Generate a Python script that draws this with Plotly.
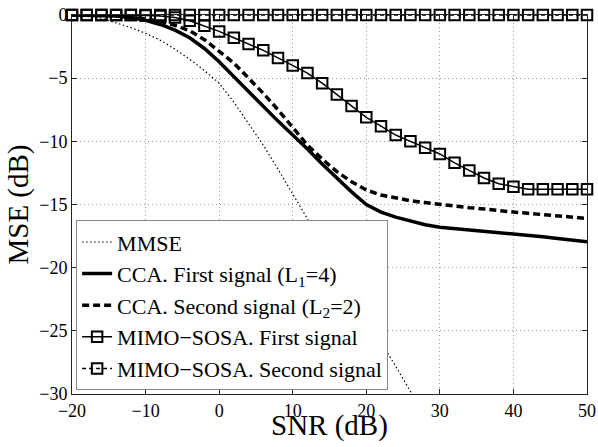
import plotly.graph_objects as go

snr = [-20, -18, -16, -14, -12, -10, -8, -6, -4, -2, 0, 2, 4, 6, 8, 10, 12, 14,
       16, 18, 20, 22, 24, 26, 28, 30, 32, 34, 36, 38, 40, 42, 44, 46, 48, 50]

snr_mmse = [-20, -18, -16, -14, -12, -10, -8, -6, -4, -2, 0, 2, 4, 6, 8, 10, 12,
            14, 16, 18, 20, 22, 24, 26, 28]
mmse = [-0.02, -0.1, -0.25, -0.6, -1.0, -1.45, -2.0, -2.7, -3.5, -4.4, -5.4, -6.9,
        -8.6, -10.3, -12.2, -14.2, -16.1, -18.1, -20.0, -22.0, -24.0, -25.9, -27.8,
        -29.8, -31.8]

cca_first = [0, -0.01, -0.03, -0.08, -0.2, -0.42, -0.75, -1.2, -1.8, -2.65, -3.7,
             -4.9, -6.05, -7.2, -8.4, -9.5, -10.6, -11.8, -12.9, -14.0, -15.0, -15.6,
             -16.0, -16.3, -16.6, -16.8, -16.9, -17.0, -17.1, -17.2, -17.3, -17.4,
             -17.55, -17.7, -17.8, -17.95]

cca_second = [0, -0.01, -0.02, -0.05, -0.13, -0.28, -0.5, -0.82, -1.25, -1.95, -2.85,
              -3.8, -5.0, -6.2, -7.5, -8.9, -10.3, -11.4, -12.4, -13.2, -13.85, -14.25,
              -14.5, -14.7, -14.85, -15.0, -15.1, -15.25, -15.35, -15.5, -15.6, -15.7,
              -15.8, -15.9, -16.0, -16.1]

sosa_first = [0, 0, 0, 0, 0, -0.03, -0.08, -0.2, -0.45, -0.85, -1.3, -1.8, -2.3, -2.8,
              -3.4, -4.0, -4.6, -5.4, -6.3, -7.2, -8.1, -8.8, -9.5, -10.0, -10.5, -11.0,
              -11.7, -12.3, -12.9, -13.35, -13.6, -13.8, -13.8, -13.8, -13.8, -13.8]

sosa_second = [0, 0, 0, 0, 0, 0, 0, 0, 0, 0, 0, 0, 0, 0, 0, 0, 0, 0,
               0, 0, 0, 0, 0, 0, 0, 0, 0, 0, 0, 0, 0, 0, 0, 0, 0, 0]

names = ["MMSE", "CCA. First signal (L<sub>1</sub>=4)",
         "CCA. Second signal (L<sub>2</sub>=2)",
         "MIMO\u2212SOSA. First signal", "MIMO\u2212SOSA. Second signal"]

x_title = "SNR (dB)"
y_title = "MSE (dB)"

FONT = "Liberation Serif, Times New Roman, Times, serif"

fig = go.Figure()
fig.add_trace(go.Scatter(x=snr_mmse, y=mmse, mode="lines", name=names[0],
                         line=dict(color="black", width=1.2, dash="1.5px,2.5px")))
fig.add_trace(go.Scatter(x=snr, y=cca_first, mode="lines", name=names[1],
                         line=dict(color="black", width=3.5)))
fig.add_trace(go.Scatter(x=snr, y=cca_second, mode="lines", name=names[2],
                         line=dict(color="black", width=3.5, dash="7px,4px")))
fig.add_trace(go.Scatter(x=snr, y=sosa_first, mode="lines+markers", name=names[3],
                         line=dict(color="black", width=1.5),
                         marker=dict(symbol="square-open", size=10.5, color="black",
                                     line=dict(width=2, color="black")),
                         cliponaxis=False))
fig.add_trace(go.Scatter(x=snr, y=sosa_second, mode="lines+markers", name=names[4],
                         line=dict(color="black", width=1.5, dash="4px,3px"),
                         marker=dict(symbol="square-open", size=10.5, color="black",
                                     line=dict(width=2, color="black")),
                         cliponaxis=False))

axis_common = dict(
    showline=True, linecolor="#222222", linewidth=1, mirror="ticks",
    ticks="inside", ticklen=5, tickcolor="#222222", tickwidth=1,
    showgrid=True, gridcolor="#999999", griddash="1px,3px", gridwidth=1,
    zeroline=False, automargin=False,
    tickfont=dict(family=FONT, size=18, color="black"),
)

fig.update_layout(
    width=598, height=447,
    margin=dict(l=72, r=11, t=15, b=53, autoexpand=False),
    paper_bgcolor="white", plot_bgcolor="white",
    font=dict(family=FONT, color="black"),
    xaxis=dict(range=[-20, 50], dtick=10, tick0=0, **axis_common),
    yaxis=dict(range=[-30, 0], dtick=5, tick0=0,
               title=dict(text=y_title, font=dict(family=FONT, size=29), standoff=2),
               **axis_common),
    legend=dict(x=0.008, y=0.01, xanchor="left", yanchor="bottom",
                bgcolor="white", bordercolor="#888888", borderwidth=1,
                font=dict(family=FONT, size=22, color="black"),
                tracegroupgap=0, itemwidth=30),
    showlegend=True,
    annotations=[dict(text=x_title, xref="paper", yref="paper", x=0.5, y=-0.083,
                      xanchor="center", yanchor="middle", showarrow=False,
                      font=dict(family=FONT, size=29, color="black"))],
)

fig.write_html("out.html")
